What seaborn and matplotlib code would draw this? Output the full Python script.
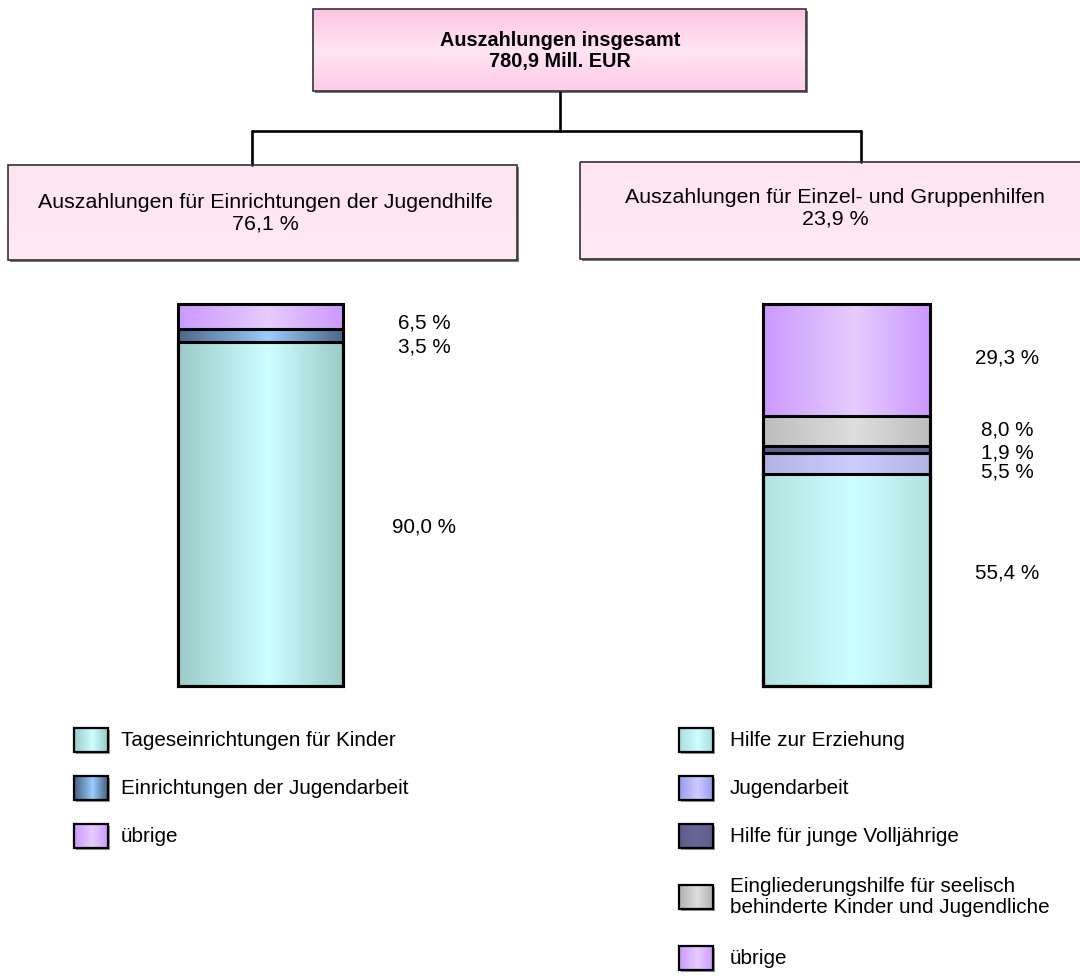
import numpy as np
import matplotlib
matplotlib.use("Agg")
import matplotlib.pyplot as plt
from matplotlib.colors import LinearSegmentedColormap
from matplotlib.patches import Rectangle
import seaborn as sns

sns.set_theme(style="white")
plt.rcParams['font.family'] = ['Liberation Sans', 'DejaVu Sans']
plt.rcParams['text.color'] = 'black'

# --- data ---
total_label = "Auszahlungen insgesamt"
total_value = "780,9 Mill. EUR"
group_titles = ["Auszahlungen für Einrichtungen der Jugendhilfe",
                "Auszahlungen für Einzel- und Gruppenhilfen"]
group_shares = [76.1, 23.9]

left_labels = ["Tageseinrichtungen für Kinder",
               "Einrichtungen der Jugendarbeit",
               "übrige"]
left_values = [90.0, 3.5, 6.5]

right_labels = ["Hilfe zur Erziehung",
                "Jugendarbeit",
                "Hilfe für junge Volljährige",
                "Eingliederungshilfe für seelisch\nbehinderte Kinder und Jugendliche",
                "übrige"]
right_values = [55.4, 5.5, 1.9, 8.0, 29.3]

# --- styles (edge colour, centre colour of the gradient) ---
left_colors = [("#9ccbc8", "#ccffff"), ("#4d6886", "#99ccff"), ("#cc99ff", "#e6ccff")]
right_colors = [("#b3e3e0", "#ccffff"), ("#b3b3e3", "#ccccff"), ("#606090", "#666699"),
                ("#bdbdbd", "#dedede"), ("#cc99ff", "#e6ccff")]
right_swatch_colors = [("#a8dcd9", "#ccffff"), ("#9999ee", "#ccccff"), ("#5c5c8c", "#666699"),
                       ("#b0b0b0", "#dedede"), ("#cc99ff", "#e6ccff")]
left_swatch_colors = [("#99c9c6", "#ccffff"), ("#44607e", "#99ccff"), ("#cc99ff", "#e6ccff")]
left_offsets = [-13, -11, -7]          # label nudges in pixels
right_offsets = [7, -8, -3, 1, 2]

W, H = 1080, 980
FS = 14.9
FS_BOX = 15.4
grad = np.linspace(0, 1, 256).reshape(1, -1)


def fmt(v):
    return f"{v:.1f}".replace(".", ",") + " %"


def grad_cmap(edge, center):
    return LinearSegmentedColormap.from_list("g", [(0, edge), (0.55, center), (1, edge)])


fig = plt.figure(figsize=(W / 100, H / 100), dpi=100)
bg = fig.add_axes([0, 0, 1, 1])
bg.axis('off')


def px_axes(x0, y0, x1, y1):
    return fig.add_axes([x0 / W, 1 - y1 / H, (x1 - x0) / W, (y1 - y0) / H])


def box(x0, y0, x1, y1, cols):
    bg.add_patch(Rectangle((x0 + 2, y0 + 2), x1 - x0, y1 - y0, fc="#777777", ec="none", zorder=1))
    cm = LinearSegmentedColormap.from_list("b", cols)
    bg.imshow(np.linspace(0, 1, 100).reshape(-1, 1), cmap=cm, extent=(x0, x1, y1, y0),
              origin='upper', aspect='auto', zorder=2)
    bg.add_patch(Rectangle((x0, y0), x1 - x0, y1 - y0, fill=False, ec="#333333", lw=1.2, zorder=3))


def swatch(x0, yc, cols, w=34, h=24):
    y0 = yc - h / 2
    bg.add_patch(Rectangle((x0 + 2, y0 + 2), w, h, fc="#999999", ec="none", zorder=1))
    bg.imshow(grad, cmap=grad_cmap(*cols), extent=(x0, x0 + w, y0 + h, y0), aspect='auto', zorder=2)
    bg.add_patch(Rectangle((x0, y0), w, h, fill=False, ec="black", lw=1.6, zorder=3))


def stacked_bar(ax, values, colors, offsets, label_px, bar_px):
    cum = np.cumsum(values)
    n = len(values)
    for i in range(n - 1, -1, -1):
        sns.barplot(x=[0], y=[cum[i]], ax=ax, width=1.0, color=colors[i][1],
                    edgecolor='black', linewidth=2.2)
        p = ax.patches[-1]
        ax.imshow(grad, cmap=grad_cmap(*colors[i]),
                  extent=[p.get_x(), p.get_x() + p.get_width(), p.get_y(), p.get_y() + p.get_height()],
                  aspect='auto', zorder=n - i, interpolation='bicubic')
        p.set_facecolor('none')
        p.set_zorder(20)
        p.set_clip_on(False)
    ax.set_xlim(-0.5, 0.5)
    ax.set_ylim(0, 100)
    ax.axis('off')
    fx = (label_px - bar_px[0]) / (bar_px[1] - bar_px[0])
    for v, c, off in zip(values, cum, offsets):
        ax.annotate(fmt(v), xy=(fx, c - v / 2), xycoords=('axes fraction', 'data'),
                    xytext=(0, off), textcoords='offset pixels', ha='center', va='center',
                    fontsize=FS, color='black', annotation_clip=False)


# --- tree boxes ---
box(313, 9, 806, 91, ["#ffc4e4", "#ffe4f2", "#ffcce8"])
box(8, 165, 517, 260, ["#ffe4f2", "#ffe8f4"])
box(580, 162, 1090, 259, ["#ffe4f2", "#ffe8f4"])

bg.text(560, 40, total_label, ha='center', va='center', fontsize=14.3, fontweight='bold')
bg.text(560, 62, total_value, ha='center', va='center', fontsize=14.3, fontweight='bold')
for xc, yt, title, share in zip([265, 835], [202, 197], group_titles, group_shares):
    bg.text(xc, yt, title, ha='center', va='center', fontsize=FS_BOX)
    bg.text(xc, yt + 22, fmt(share), ha='center', va='center', fontsize=FS_BOX)

lw = 1.9
bg.plot([560, 560], [92, 131], color='black', lw=lw)
bg.plot([252, 861], [131, 131], color='black', lw=lw)
bg.plot([252, 252], [131, 165], color='black', lw=lw)
bg.plot([861, 861], [131, 162], color='black', lw=lw)

# --- stacked bars ---
ax_l = px_axes(178, 304, 343, 686)
stacked_bar(ax_l, left_values, left_colors, left_offsets, 424, (178, 343))
ax_r = px_axes(763, 304, 930, 686)
stacked_bar(ax_r, right_values, right_colors, right_offsets, 1007, (763, 930))

# --- legends ---
for lab, cols, yc in zip(left_labels, left_swatch_colors, [740, 788, 836]):
    swatch(74, yc, cols)
    bg.text(121, yc, lab, ha='left', va='center', fontsize=FS)
for lab, cols, yc in zip(right_labels, right_swatch_colors, [740, 788, 836, 897, 958]):
    swatch(679, yc, cols)
    bg.text(730, yc, lab, ha='left', va='center', fontsize=FS, linespacing=1.1)

bg.set_xlim(0, W)
bg.set_ylim(H, 0)

fig.savefig("out.png", dpi=100, facecolor='white')
